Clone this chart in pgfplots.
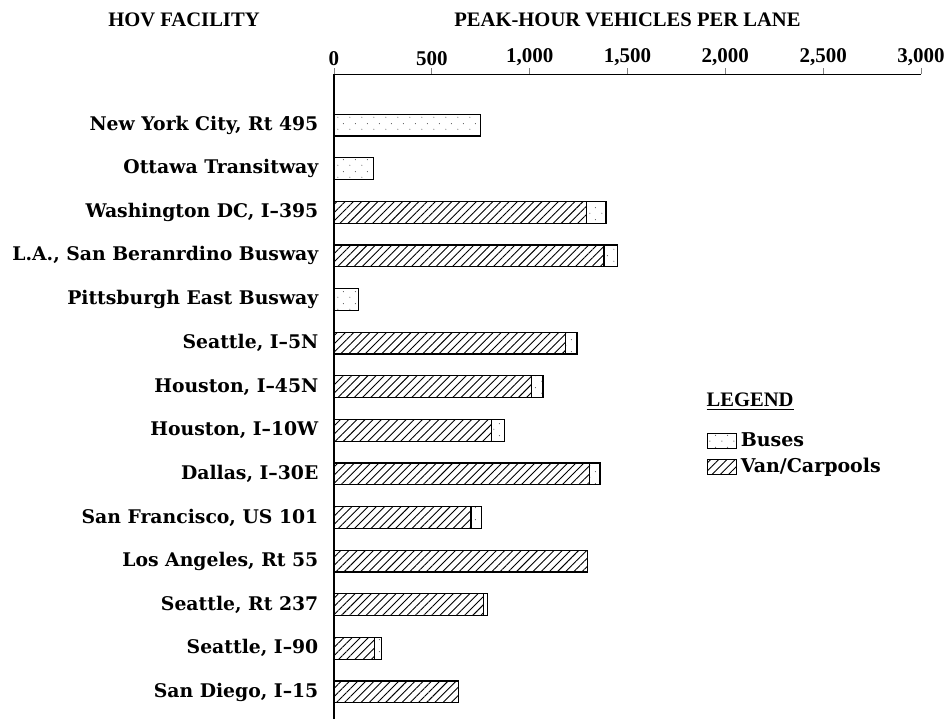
\documentclass[border=0pt]{standalone}
\usepackage{fontspec}
\usepackage{pgfplots}
\pgfplotsset{compat=1.18}
\usetikzlibrary{patterns.meta}
\setmainfont{DejaVu Serif}
\newfontfamily\headfont{Liberation Serif}

\tikzdeclarepattern{
  name=busdots, type=uncolored,
  bounding box={(0pt,0pt) and (6pt,6pt)},
  tile size={(6pt,6pt)},
  code={\fill (1pt,1.5pt) circle (0.3pt); \fill (4pt,4.5pt) circle (0.3pt);}
}

\begin{document}
\begin{tikzpicture}
\begin{axis}[
  scale only axis,
  width=293.5pt, height=322.5pt,
  xbar stacked,
  bar width=0.5,
  y dir=reverse,
  xmin=0, xmax=3000,
  ymin=-1.17, ymax=13.62,
  axis x line*=top, axis y line*=left,
  x axis line style={line width=0.3pt, -},
  y axis line style={line width=1pt, -},
  xtick={0,500,...,3000},
  xtick align=outside,
  major tick length=3pt,
  xtick style={line width=0.4pt},
  xticklabel style={font=\headfont\bfseries\fontsize{10.5}{12}\selectfont, yshift=-2.5pt},
  /pgf/number format/assume math mode=true,
  /pgf/number format/1000 sep={,},
  ytick={0,...,13},
  ytick style={draw=none},
  yticklabel style={font=\bfseries\fontsize{9.4}{11}\selectfont, xshift=-4.3pt},
  yticklabels={New York City{,} Rt 495,Ottawa Transitway,Washington DC{,} I--395,L.A.{,} San Beranrdino Busway,Pittsburgh East Busway,Seattle{,} I--5N,Houston{,} I--45N,Houston{,} I--10W,Dallas{,} I--30E,San Francisco{,} US 101,Los Angeles{,} Rt 55,Seattle{,} Rt 237,Seattle{,} I--90,San Diego{,} I--15},
  legend style={draw=none, fill=none, at={(rel axis cs:0.634,0.451)}, anchor=north west,
    font=\bfseries\fontsize{9.5}{11}\selectfont, row sep=0.5pt, inner sep=0pt},
  legend cell align=left,
  legend image code/.code={\draw[#1] (0pt,-3.6pt) rectangle (14.5pt,3.6pt);},
  clip=false,
]
\addplot[draw=black, line width=0.6pt, pattern={Lines[angle=45,distance=2.9pt,line width=0.45pt]}, forget plot]
coordinates {(0,0) (0,1) (1290,2) (1380,3) (0,4) (1185,5) (1010,6) (805,7) (1305,8) (700,9) (1295,10) (763,11) (206,12) (635,13)};
\addplot[draw=black, line width=0.6pt, pattern=busdots, pattern color=black!70, forget plot]
coordinates {(750,0) (200,1) (100,2) (70,3) (125,4) (57,5) (58,6) (68,7) (54,8) (52,9) (0,10) (20,11) (36,12) (0,13)};
\addlegendimage{draw=black, line width=0.6pt, pattern=busdots, pattern color=black!70}
\addlegendentry{Buses}
\addlegendimage{draw=black, line width=0.6pt, pattern={Lines[angle=45,distance=2.9pt,line width=0.45pt]}}
\addlegendentry{Van/Carpools}
\node[anchor=base west, font=\headfont\bfseries\fontsize{10.3}{12}\selectfont, inner sep=0pt] at (rel axis cs:0.634,0.484) {\underline{LEGEND}};
\node[font=\headfont\bfseries\fontsize{10.3}{12}\selectfont] at ([yshift=27pt]rel axis cs:0.5,1) {PEAK-HOUR VEHICLES PER LANE};
\node[font=\headfont\bfseries\fontsize{10.3}{12}\selectfont] at ([xshift=-75pt,yshift=27pt]rel axis cs:0,1) {HOV FACILITY};
\coordinate (bbtl) at ([xshift=-167pt,yshift=37pt]rel axis cs:0,1);
\coordinate (bbbr) at ([xshift=15pt]rel axis cs:1,0);
\end{axis}
\pgfresetboundingbox
\useasboundingbox (bbtl) rectangle (bbbr);
\end{tikzpicture}
\end{document}
